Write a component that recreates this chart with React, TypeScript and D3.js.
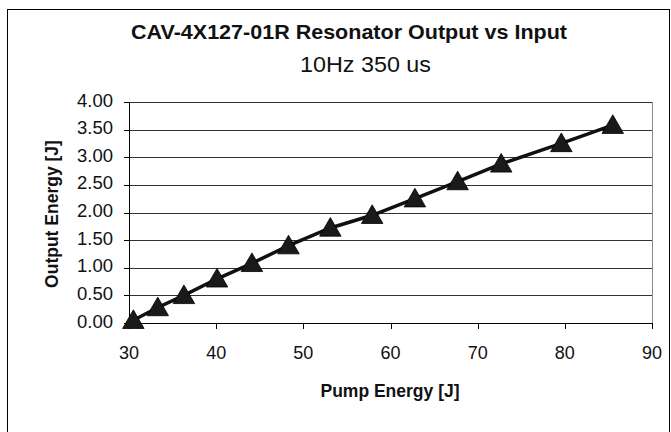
import React from "react";
import * as d3 from "d3";

const pumpEnergy = [30.5, 33.3, 36.3, 40.1, 44.1, 48.3, 53.1, 57.9, 62.8, 67.7, 72.7, 79.6, 85.5];
const outputEnergy = [0.05, 0.28, 0.5, 0.8, 1.08, 1.4, 1.72, 1.95, 2.25, 2.56, 2.88, 3.25, 3.58];
const xTicks = [30, 40, 50, 60, 70, 80, 90];
const yTicks = [0, 0.5, 1, 1.5, 2, 2.5, 3, 3.5, 4];
const title = "CAV-4X127-01R Resonator Output vs Input";
const subtitle = "10Hz 350 us";
const xTitle = "Pump Energy [J]";
const yTitle = "Output Energy [J]";

export default function App() {
  const W = 671, H = 432;
  const left = 129, right = 652, top = 102, bottom = 323;
  const x = d3.scaleLinear().domain([30, 90]).range([left, right]);
  const y = d3.scaleLinear().domain([0, 4]).range([bottom, top]);
  const pts = pumpEnergy.map((v, i) => [v, outputEnergy[i]] as [number, number]);
  const line = d3.line<[number, number]>().x(d => x(d[0])).y(d => y(d[1]));
  const tri = d3.symbol().type(d3.symbolTriangle).size(200)();
  const font = "'Liberation Sans', Arial, sans-serif";
  return (
    <svg width={W} height={H} style={{ position: "absolute", left: 0, top: 0, background: "#fff" }} fontFamily={font}>
      <rect x={7.5} y={9.5} width={662} height={440} fill="#fff" stroke="#000" strokeWidth={1} />
      <text x={131} y={39} textAnchor="start" fontSize={20.5} fontWeight="bold" fill="#111" textLength={436} lengthAdjust="spacingAndGlyphs">{title}</text>
      <text x={300} y={72} textAnchor="start" fontSize={21.5} fill="#111" textLength={131} lengthAdjust="spacingAndGlyphs">{subtitle}</text>
      {yTicks.map(t => (
        <g key={"y" + t}>
          <line x1={left} x2={right} y1={Math.round(y(t)) + 0.5} y2={Math.round(y(t)) + 0.5} stroke={t === 0 ? "#000" : "#333"} strokeWidth={1} />
          <line x1={left - 5} x2={left} y1={Math.round(y(t)) + 0.5} y2={Math.round(y(t)) + 0.5} stroke="#000" />
          <text x={113} y={y(t) + 4.5} textAnchor="end" fontSize={18.5} fill="#111">{t.toFixed(2)}</text>
        </g>
      ))}
      <line x1={right + 0.5} x2={right + 0.5} y1={top} y2={bottom} stroke="#888" />
      <line x1={left + 0.5} x2={left + 0.5} y1={top} y2={bottom} stroke="#000" />
      {xTicks.map(t => (
        <g key={"x" + t}>
          <line x1={Math.round(x(t)) + 0.5} x2={Math.round(x(t)) + 0.5} y1={bottom} y2={bottom + 6} stroke="#000" />
          <text x={x(t)} y={359} textAnchor="middle" fontSize={18} fill="#111">{t}</text>
        </g>
      ))}
      <path d={line(pts) || ""} fill="none" stroke="#111" strokeWidth={3.5} />
      {pts.map((p, i) => (
        <path key={i} d={tri || ""} transform={`translate(${x(p[0])},${y(p[1]) + 2})`} fill="#1a1a1a" stroke="#000" strokeWidth={0.8} />
      ))}
      <text x={390} y={397} textAnchor="middle" fontSize={17.5} fontWeight="bold" fill="#111">{xTitle}</text>
      <text transform={`translate(58,214) rotate(-90)`} textAnchor="middle" fontSize={17.5} fontWeight="bold" fill="#111">{yTitle}</text>
    </svg>
  );
}
